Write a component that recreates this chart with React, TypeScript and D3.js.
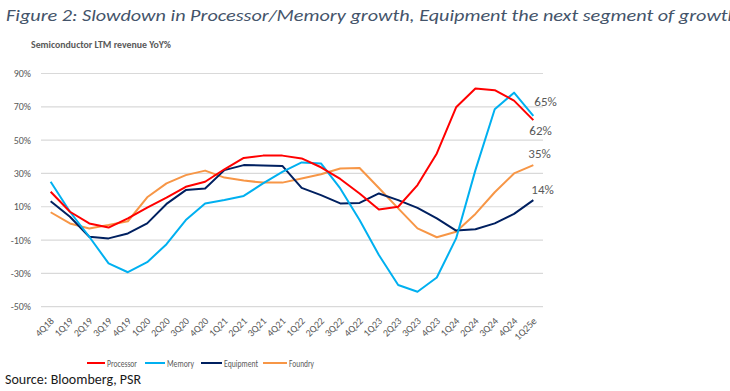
import React, { useEffect, useRef } from "react";
import * as d3 from "d3";

// quarters on the x axis
const quarters = [
  "4Q18", "1Q19", "2Q19", "3Q19", "4Q19", "1Q20", "2Q20", "3Q20", "4Q20",
  "1Q21", "2Q21", "3Q21", "4Q21", "1Q22", "2Q22", "3Q22", "4Q22",
  "1Q23", "2Q23", "3Q23", "4Q23", "1Q24", "2Q24", "3Q24", "4Q24", "1Q25e",
];

// LTM revenue YoY %
const processor = [19, 7, 0, -2.5, 3, 9.5, 15.5, 22, 25, 32.5, 39.3, 40.7, 40.7, 39, 33.7, 26.7, 18, 8.3, 10, 23, 42, 69.7, 81, 80, 73.7, 62];
const memory = [25, 7, -8, -24, -29.3, -23.3, -12.5, 2, 12, 14, 16.5, 24, 31, 36.6, 36, 21, 2, -19, -37, -41, -32.5, -9, 32, 68.5, 78.5, 64.5];
const equipment = [13.3, 4, -8, -9, -6, 0, 11.7, 20, 21, 32, 35, 34.8, 34.5, 21.3, 17, 12, 12.3, 18, 14, 9.3, 3, -4.3, -3.5, 0, 5.7, 14];
const foundry = [6.7, 0, -3, -1, 1.3, 15.7, 24, 29, 31.7, 27.5, 25.7, 24.5, 24.5, 27, 29.5, 33, 33.3, 21.3, 9, -3, -8.3, -5, 5.7, 18.7, 30, 35];

const seriesNames = ["Processor", "Memory", "Equipment", "Foundry"];
const seriesColors = ["#FF0000", "#00B0F0", "#002060", "#F79646"];
const endLabels = ["62%", "65%", "14%", "35%"];
const yTicks = [-50, -30, -10, 10, 30, 50, 70, 90];

const FONT = "Carlito, Calibri, 'Open Sans', sans-serif";

export default function App() {
  const ref = useRef<SVGSVGElement>(null);

  useEffect(() => {
    const svg = d3.select(ref.current);
    svg.selectAll("*").remove();

    const W = 730;
    const H = 391;
    const left = 41;
    const right = 543;
    const top = 73.5;
    const bottom = 306.7;

    svg.attr("width", W).attr("height", H);
    svg.append("rect").attr("width", W).attr("height", H).attr("fill", "#fff");

    const x = d3.scalePoint<string>().domain(quarters).range([left, right]).padding(0.5);
    const y = d3.scaleLinear().domain([-50, 90]).range([bottom, top]);

    // title + subtitle
    svg
      .append("text")
      .attr("x", 6)
      .attr("y", 21)
      .attr("font-family", FONT)
      .attr("font-style", "italic")
      .attr("font-size", 17)
      .attr("fill", "#44546A")
      .attr("textLength", 732)
      .attr("lengthAdjust", "spacingAndGlyphs")
      .text("Figure 2: Slowdown in Processor/Memory growth, Equipment the next segment of growth");

    svg
      .append("text")
      .attr("x", 31)
      .attr("y", 48)
      .attr("font-family", FONT)
      .attr("font-weight", "bold")
      .attr("font-size", 10.5)
      .attr("fill", "#595959")
      .attr("textLength", 140)
      .attr("lengthAdjust", "spacingAndGlyphs")
      .text("Semiconductor LTM revenue YoY%");

    // gridlines
    svg
      .append("g")
      .selectAll("line")
      .data(yTicks)
      .join("line")
      .attr("x1", left)
      .attr("x2", right)
      .attr("y1", (d) => y(d))
      .attr("y2", (d) => y(d))
      .attr("stroke", "#D9D9D9")
      .attr("stroke-width", 1.2);

    // y labels
    svg
      .append("g")
      .selectAll("text")
      .data(yTicks)
      .join("text")
      .attr("x", 31)
      .attr("y", (d) => y(d) + 3.5)
      .attr("text-anchor", "end")
      .attr("font-family", FONT)
      .attr("font-size", 10)
      .attr("fill", "#595959")
      .text((d) => `${d}%`);

    // x labels, rotated
    svg
      .append("g")
      .selectAll("text")
      .data(quarters)
      .join("text")
      .attr("transform", (d) => `translate(${(x(d) as number) + 4},${bottom + 15}) rotate(-45)`)
      .attr("text-anchor", "end")
      .attr("font-family", FONT)
      .attr("font-size", 10)
      .attr("fill", "#595959")
      .text((d) => d);

    // lines
    const allSeries = [processor, memory, equipment, foundry];
    const line = d3
      .line<number>()
      .x((_, i) => x(quarters[i]) as number)
      .y((d) => y(d));

    // draw order: foundry, equipment, memory, processor
    [3, 2, 1, 0].forEach((k) => {
      svg
        .append("path")
        .datum(allSeries[k])
        .attr("d", line)
        .attr("fill", "none")
        .attr("stroke", seriesColors[k])
        .attr("stroke-width", 2)
        .attr("stroke-linejoin", "round");
    });

    // end labels
    const labelPos = [
      { dx: -4, dy: 15 },
      { dx: 1, dy: -10 },
      { dx: -2, dy: -6 },
      { dx: -5, dy: -7 },
    ];
    allSeries.forEach((s, k) => {
      const last = quarters[quarters.length - 1];
      svg
        .append("text")
        .attr("x", (x(last) as number) + labelPos[k].dx)
        .attr("y", y(s[s.length - 1]) + labelPos[k].dy)
        .attr("font-family", FONT)
        .attr("font-size", 13)
        .attr("fill", "#595959")
        .text(endLabels[k]);
    });

    // legend
    const legendX = [87, 145, 201, 263];
    const legendW = [18, 20, 21, 24];
    const legendTextW = [30, 27, 34, 25];
    const legendY = 363;
    seriesNames.forEach((name, k) => {
      const g = svg.append("g").attr("transform", `translate(${legendX[k]},${legendY})`);
      g.append("line")
        .attr("x1", 0)
        .attr("x2", legendW[k])
        .attr("stroke", seriesColors[k])
        .attr("stroke-width", 2);
      g.append("text")
        .attr("x", legendW[k] + 2)
        .attr("y", 3.5)
        .attr("font-family", FONT)
        .attr("font-size", 10)
        .attr("fill", "#595959")
        .attr("textLength", legendTextW[k])
        .attr("lengthAdjust", "spacingAndGlyphs")
        .text(name);
    });

    // source
    svg
      .append("text")
      .attr("x", 5)
      .attr("y", 384)
      .attr("font-family", FONT)
      .attr("font-size", 14)
      .attr("fill", "#1a1a1a")
      .text("Source: Bloomberg, PSR");
  }, []);

  return (
    <svg
      ref={ref}
      style={{ position: "absolute", left: 0, top: 0, display: "block" }}
    />
  );
}
